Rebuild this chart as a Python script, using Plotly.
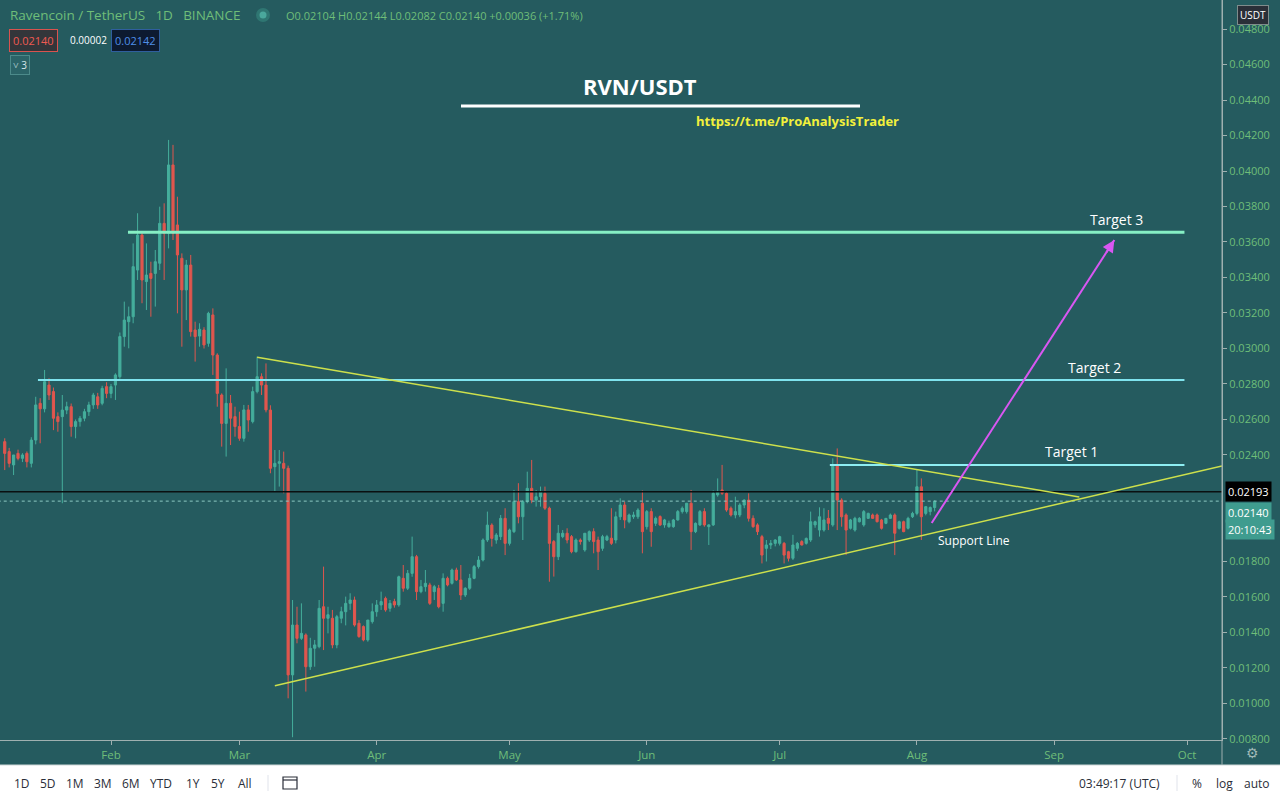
import plotly.graph_objects as go
import pandas as pd

# ---------------- data (RVN/USDT daily, 2020-01-08 .. 2020-08-05) ----------------
START_DATE = "2020-01-08"

OPEN = [
    # Jan 8-31
    0.02475, 0.02419, 0.02344, 0.02409, 0.02381, 0.02409, 0.02353, 0.02484, 0.02691, 0.02660, 0.02794, 0.02757,
    0.02616, 0.02616, 0.02653, 0.02672, 0.02560, 0.02588, 0.02607, 0.02644, 0.02682, 0.02728, 0.02691, 0.02785,
    # Feb
    0.02747, 0.02794, 0.02841, 0.03067, 0.03151, 0.03179, 0.03442, 0.03639, 0.03377, 0.03423, 0.03423, 0.03480,
    0.03705, 0.03649, 0.04034, 0.03696, 0.03508, 0.03330, 0.03470, 0.03104, 0.03070, 0.03104, 0.03029, 0.03189,
    0.02963, 0.02738, 0.02578, 0.02691, 0.02616,
    # Mar
    0.02560, 0.02494, 0.02654, 0.02588, 0.02757, 0.02841, 0.02794, 0.02653, 0.02334, 0.02353, 0.02353, 0.02325,
    0.01161, 0.01442, 0.01367, 0.01386, 0.01207, 0.01311, 0.01320, 0.01545, 0.01480, 0.01480, 0.01330, 0.01480,
    0.01517, 0.01564, 0.01583, 0.01452, 0.01433, 0.01358, 0.01461,
    # Apr
    0.01517, 0.01555, 0.01592, 0.01536, 0.01574, 0.01555, 0.01705, 0.01649, 0.01733, 0.01827, 0.01630, 0.01658,
    0.01668, 0.01630, 0.01649, 0.01564, 0.01705, 0.01677, 0.01752, 0.01696, 0.01611, 0.01649, 0.01705, 0.01771,
    0.01808, 0.01921, 0.02005, 0.01921, 0.01940, 0.02043,
    # May
    0.01902, 0.01968, 0.02137, 0.02052, 0.02137, 0.02212, 0.02146, 0.02165, 0.02184, 0.02100, 0.01912, 0.01827,
    0.01940, 0.01959, 0.01940, 0.01855, 0.01921, 0.01865, 0.01921, 0.01968, 0.01921, 0.01874, 0.01921, 0.01931,
    0.01921, 0.02052, 0.02118, 0.02024, 0.02052, 0.02052, 0.02128,
    # Jun
    0.01996, 0.02081, 0.02015, 0.02053, 0.02006, 0.01996, 0.01996, 0.02034, 0.02081, 0.02081, 0.02128, 0.01968,
    0.02006, 0.02081, 0.01996, 0.02006, 0.02175, 0.02203, 0.02184, 0.02100, 0.02062, 0.02062, 0.02118, 0.02146,
    0.02043, 0.02006, 0.01940, 0.01874, 0.01893, 0.01902,
    # Jul
    0.01902, 0.01902, 0.01855, 0.01818, 0.01874, 0.01912, 0.01902, 0.01921, 0.02006, 0.01977, 0.01977, 0.02043,
    0.02006, 0.02344, 0.02146, 0.02062, 0.01987, 0.01977, 0.02024, 0.02006, 0.02043, 0.02062, 0.02062, 0.02034,
    0.02015, 0.02043, 0.02062, 0.01987, 0.02024, 0.01987, 0.02052,
    # Aug 1-5
    0.02071, 0.02221, 0.02071, 0.02081, 0.02104,
]

HIGH = [
    0.02494, 0.02440, 0.02400, 0.02430, 0.02410, 0.02420, 0.02500, 0.02728, 0.02720, 0.02879, 0.02832, 0.02780,
    0.02640, 0.02738, 0.02700, 0.02690, 0.02600, 0.02620, 0.02660, 0.02700, 0.02750, 0.02750, 0.02790, 0.02810,
    0.02800, 0.02860, 0.03090, 0.03264, 0.03236, 0.03592, 0.03762, 0.03660, 0.03592, 0.03489, 0.03555, 0.03799,
    0.03818, 0.04175, 0.04147, 0.03855, 0.03536, 0.03499, 0.03527, 0.03151, 0.03142, 0.03120, 0.03207, 0.03226,
    0.02973, 0.02747, 0.02888, 0.02738, 0.02672,
    0.02644, 0.02682, 0.02682, 0.02785, 0.02954, 0.02860, 0.02916, 0.02680, 0.02428, 0.02428, 0.02419, 0.02340,
    0.01583, 0.01545, 0.01564, 0.01395, 0.01370, 0.01358, 0.01583, 0.01771, 0.01545, 0.01527, 0.01499, 0.01545,
    0.01602, 0.01621, 0.01602, 0.01470, 0.01440, 0.01470, 0.01564,
    0.01583, 0.01630, 0.01602, 0.01583, 0.01590, 0.01720, 0.01780, 0.01752, 0.01940, 0.01837, 0.01696, 0.01752,
    0.01680, 0.01668, 0.01668, 0.01733, 0.01715, 0.01760, 0.01765, 0.01780, 0.01655, 0.01730, 0.01780, 0.01830,
    0.01930, 0.02081, 0.02015, 0.01960, 0.02062, 0.02100,
    0.01985, 0.02203, 0.02241, 0.02146, 0.02306, 0.02372, 0.02203, 0.02222, 0.02222, 0.02109, 0.01921, 0.02006,
    0.01977, 0.01987, 0.01949, 0.01930, 0.01930, 0.01960, 0.01975, 0.01987, 0.01940, 0.01950, 0.01950, 0.02100,
    0.02081, 0.02156, 0.02137, 0.02070, 0.02080, 0.02100, 0.02200,
    0.02090, 0.02100, 0.02053, 0.02060, 0.02040, 0.02030, 0.02040, 0.02090, 0.02110, 0.02130, 0.02203, 0.02020,
    0.02090, 0.02100, 0.02010, 0.02200, 0.02268, 0.02344, 0.02190, 0.02110, 0.02165, 0.02128, 0.02150, 0.02184,
    0.02060, 0.02015, 0.01950, 0.01921, 0.01921, 0.01925,
    0.01945, 0.01910, 0.01860, 0.01950, 0.01910, 0.01920, 0.01935, 0.02081, 0.02030, 0.02105, 0.02100, 0.02090,
    0.02381, 0.02437, 0.02156, 0.02071, 0.02040, 0.02052, 0.02050, 0.02090, 0.02075, 0.02070, 0.02070, 0.02040,
    0.02045, 0.02070, 0.02071, 0.02030, 0.02030, 0.02052, 0.02080,
    0.02316, 0.02268, 0.02110, 0.02110, 0.02144,
]

LOW = [
    0.02315, 0.02330, 0.02287, 0.02370, 0.02360, 0.02330, 0.02330, 0.02460, 0.02466, 0.02640, 0.02710, 0.02540,
    0.02531, 0.02128, 0.02630, 0.02503, 0.02494, 0.02560, 0.02590, 0.02620, 0.02660, 0.02660, 0.02680, 0.02720,
    0.02720, 0.02710, 0.02830, 0.03010, 0.03001, 0.03142, 0.03386, 0.03255, 0.03217, 0.03179, 0.03236, 0.03442,
    0.03386, 0.03564, 0.03611, 0.03198, 0.03010, 0.03160, 0.03067, 0.02926, 0.03010, 0.03000, 0.03010, 0.02851,
    0.02672, 0.02447, 0.02391, 0.02456, 0.02503,
    0.02480, 0.02475, 0.02531, 0.02578, 0.02747, 0.02738, 0.02640, 0.02297, 0.02193, 0.02222, 0.02184, 0.01029,
    0.00810, 0.01339, 0.01358, 0.01067, 0.01189, 0.01207, 0.01311, 0.01301, 0.01395, 0.01311, 0.01311, 0.01452,
    0.01440, 0.01527, 0.01433, 0.01370, 0.01350, 0.01348, 0.01450,
    0.01489, 0.01527, 0.01517, 0.01517, 0.01540, 0.01545, 0.01630, 0.01639, 0.01714, 0.01583, 0.01621, 0.01630,
    0.01555, 0.01583, 0.01536, 0.01517, 0.01660, 0.01670, 0.01690, 0.01583, 0.01600, 0.01640, 0.01700, 0.01760,
    0.01800, 0.01910, 0.01884, 0.01900, 0.01921, 0.01836,
    0.01890, 0.01960, 0.02015, 0.01921, 0.02128, 0.02128, 0.02109, 0.02109, 0.02090, 0.01686, 0.01715, 0.01808,
    0.01931, 0.01902, 0.01846, 0.01850, 0.01895, 0.01855, 0.01910, 0.01846, 0.01752, 0.01860, 0.01915, 0.01893,
    0.01902, 0.02034, 0.01987, 0.02015, 0.02040, 0.02040, 0.01846,
    0.01980, 0.01883, 0.02000, 0.02000, 0.01990, 0.01990, 0.01990, 0.02030, 0.02070, 0.02070, 0.01865, 0.01960,
    0.02000, 0.01996, 0.01893, 0.02000, 0.02165, 0.02175, 0.02080, 0.02053, 0.02043, 0.02050, 0.02100, 0.02025,
    0.01990, 0.01949, 0.01789, 0.01800, 0.01870, 0.01885,
    0.01890, 0.01789, 0.01800, 0.01808, 0.01860, 0.01890, 0.01895, 0.01910, 0.01990, 0.01940, 0.01968, 0.01977,
    0.01996, 0.01977, 0.01996, 0.01836, 0.01980, 0.01968, 0.02020, 0.01996, 0.02040, 0.02040, 0.02020, 0.01980,
    0.02010, 0.02040, 0.01836, 0.01980, 0.01965, 0.01980, 0.02045,
    0.02060, 0.01921, 0.02060, 0.02060, 0.02082,
]

CLOSE = [
    0.02409, 0.02353, 0.02400, 0.02381, 0.02400, 0.02362, 0.02484, 0.02682, 0.02660, 0.02813, 0.02738, 0.02607,
    0.02588, 0.02653, 0.02672, 0.02560, 0.02588, 0.02607, 0.02644, 0.02682, 0.02738, 0.02682, 0.02775, 0.02747,
    0.02785, 0.02851, 0.03067, 0.03160, 0.03179, 0.03461, 0.03639, 0.03386, 0.03414, 0.03395, 0.03489, 0.03705,
    0.03649, 0.04034, 0.03649, 0.03527, 0.03330, 0.03470, 0.03095, 0.03067, 0.03108, 0.03020, 0.03198, 0.02963,
    0.02747, 0.02578, 0.02691, 0.02607, 0.02560,
    0.02494, 0.02654, 0.02597, 0.02757, 0.02841, 0.02794, 0.02654, 0.02325, 0.02353, 0.02362, 0.02325, 0.01161,
    0.01442, 0.01367, 0.01395, 0.01207, 0.01311, 0.01330, 0.01536, 0.01480, 0.01500, 0.01330, 0.01489, 0.01517,
    0.01564, 0.01583, 0.01442, 0.01377, 0.01358, 0.01470, 0.01517,
    0.01555, 0.01574, 0.01527, 0.01564, 0.01555, 0.01714, 0.01649, 0.01733, 0.01827, 0.01630, 0.01658, 0.01677,
    0.01564, 0.01658, 0.01545, 0.01705, 0.01668, 0.01752, 0.01696, 0.01611, 0.01649, 0.01705, 0.01771, 0.01808,
    0.01921, 0.02005, 0.01930, 0.01949, 0.02043, 0.01902,
    0.01977, 0.02137, 0.02052, 0.02137, 0.02212, 0.02146, 0.02165, 0.02194, 0.02100, 0.01902, 0.01827, 0.01959,
    0.01959, 0.01921, 0.01855, 0.01921, 0.01912, 0.01959, 0.01968, 0.01912, 0.01855, 0.01940, 0.01940, 0.01902,
    0.02052, 0.02118, 0.02034, 0.02062, 0.02062, 0.02090, 0.01968,
    0.02081, 0.01968, 0.02043, 0.02006, 0.02034, 0.02015, 0.02034, 0.02081, 0.02100, 0.02128, 0.01968, 0.02015,
    0.02081, 0.02006, 0.02006, 0.02184, 0.02194, 0.02184, 0.02090, 0.02062, 0.02081, 0.02118, 0.02146, 0.02043,
    0.01996, 0.01968, 0.01836, 0.01893, 0.01902, 0.01921,
    0.01940, 0.01836, 0.01818, 0.01893, 0.01902, 0.01893, 0.01930, 0.02024, 0.02024, 0.02052, 0.02034, 0.02015,
    0.02344, 0.02146, 0.02052, 0.01977, 0.02034, 0.02043, 0.02043, 0.02081, 0.02071, 0.02043, 0.02024, 0.01987,
    0.02043, 0.02062, 0.01959, 0.02024, 0.01968, 0.02043, 0.02071,
    0.02221, 0.02052, 0.02109, 0.02104, 0.02140,
]

# drawing tools
TARGET_NAMES = ["Target 1", "Target 2", "Target 3"]
TARGET_PRICES = [0.02344, 0.02822, 0.03655]
TARGET_STARTS = ["2020-07-12 08:00", "2020-01-15 12:00", "2020-02-04 20:00"]
TARGET_END = "2020-09-30 10:00"
TARGET_LABEL_X = ["2020-09-05 00:00", "2020-09-10 00:00", "2020-09-15 00:00"]
TARGET_COLORS = ["#8eeef2", "#7fe4ee", "#86efc4"]
TARGET_WIDTHS = [2, 2, 3]

UPPER_TREND_X = ["2020-03-05 00:00", "2020-09-06 16:00"]
UPPER_TREND_Y = [0.02950, 0.02163]
SUPPORT_X = ["2020-03-09 00:00", "2020-10-08 21:30"]
SUPPORT_Y = [0.01100, 0.02338]

ARROW_FROM = ("2020-08-04 08:00", 0.02017)
ARROW_TO = ("2020-09-14 14:00", 0.03611)

LAST_PRICE = 0.02140
MARK_PRICE = 0.02193
# price-scale labels (0.02000 and 0.02200 are hidden behind the last-price boxes)
Y_TICKS = [0.008, 0.010, 0.012, 0.014, 0.016, 0.018, 0.024, 0.026, 0.028, 0.030,
           0.032, 0.034, 0.036, 0.038, 0.040, 0.042, 0.044, 0.046, 0.048]

# ---------------- styling ----------------
BG = "#255b5f"
UP = "#45ae9c"
DN = "#e0564e"
GREEN_TXT = "#6fbe79"
FONT = "Open Sans"

W, H = 1280, 800
ML, MR, MT, MB = 0, 58, 0, 60
PW, PH = W - ML - MR, H - MT - MB


def px(x):
    return x / PW


def py(y):
    return 1 - y / PH


dates = pd.date_range(START_DATE, periods=len(CLOSE), freq="D")
assert len(OPEN) == len(HIGH) == len(LOW) == len(CLOSE)

fig = go.Figure()
fig.add_trace(go.Candlestick(
    x=dates, open=OPEN, high=HIGH, low=LOW, close=CLOSE,
    increasing=dict(line=dict(color=UP, width=1), fillcolor=UP),
    decreasing=dict(line=dict(color=DN, width=1), fillcolor=DN),
    whiskerwidth=0, hoverinfo="skip", showlegend=False,
))

# last price dotted + mark line
x_full = ["2020-01-01", "2020-10-20"]
fig.add_trace(go.Scatter(x=x_full, y=[LAST_PRICE, LAST_PRICE], mode="lines",
                         line=dict(color="#8cc8c2", width=1, dash="dot"),
                         hoverinfo="skip", showlegend=False))
fig.add_trace(go.Scatter(x=x_full, y=[MARK_PRICE, MARK_PRICE], mode="lines",
                         line=dict(color="#0a0f10", width=1.5),
                         hoverinfo="skip", showlegend=False))

# targets
for name, p, s, c, w in zip(TARGET_NAMES, TARGET_PRICES, TARGET_STARTS, TARGET_COLORS, TARGET_WIDTHS):
    fig.add_trace(go.Scatter(x=[s, TARGET_END], y=[p, p], mode="lines",
                             line=dict(color=c, width=w), hoverinfo="skip", showlegend=False))

# trendlines
fig.add_trace(go.Scatter(x=UPPER_TREND_X, y=UPPER_TREND_Y, mode="lines",
                         line=dict(color="#cde04c", width=1.5), hoverinfo="skip", showlegend=False))
fig.add_trace(go.Scatter(x=SUPPORT_X, y=SUPPORT_Y, mode="lines",
                         line=dict(color="#cde04c", width=1.5), hoverinfo="skip", showlegend=False))

# magenta arrow line
fig.add_trace(go.Scatter(x=[ARROW_FROM[0], ARROW_TO[0]], y=[ARROW_FROM[1], ARROW_TO[1]], mode="lines",
                         line=dict(color="#d957f2", width=2), hoverinfo="skip", showlegend=False))

annotations = []


def pnote(x, y, text, size, color, xanchor="center", family=FONT, **kw):
    d = dict(x=px(x), y=py(y), xref="paper", yref="paper", xanchor=xanchor, yanchor="middle",
             text=text, showarrow=False, font=dict(family=family, size=size, color=color))
    d.update(kw)
    annotations.append(d)


# arrow head
annotations.append(dict(x=ARROW_TO[0], y=ARROW_TO[1], xref="x", yref="y", ax=-9, ay=14,
                        text="", showarrow=True, arrowhead=2, arrowsize=1.2, arrowwidth=2,
                        arrowcolor="#d957f2"))

for name, p, lx in zip(TARGET_NAMES, TARGET_PRICES, TARGET_LABEL_X):
    annotations.append(dict(x=lx, y=p, xref="x", yref="y", xanchor="center", yanchor="middle",
                            yshift=13, text=name, showarrow=False,
                            font=dict(family=FONT, size=14, color="white")))

annotations.append(dict(x="2020-08-14 00:00", y=0.01921, xref="x", yref="y", xanchor="center",
                        yanchor="middle", text="Support Line",
                        showarrow=False, font=dict(family=FONT, size=12, color="white")))

# title and link
pnote(640, 86, "<b>RVN/USDT</b>", 22, "white")
pnote(797, 121, "<b>https://t.me/ProAnalysisTrader</b>", 13, "#f2f03c")

# header
pnote(8, 15, "Ravencoin / TetherUS\u2002 1D\u2002 BINANCE", 13.5, GREEN_TXT, xanchor="left")
pnote(284, 15, "O0.02104 H0.02144 L0.02082 C0.02140 +0.00036 (+1.71%)", 11, GREEN_TXT, xanchor="left")
pnote(9, 40, "0.02140", 11, "#f05a52", xanchor="left", bgcolor="#33363a", bordercolor="#d9534f",
      borderwidth=1, borderpad=3)
pnote(68, 40, "0.00002", 10, "white", xanchor="left")
pnote(111, 40, "0.02142", 11, "#4f8fe8", xanchor="left", bgcolor="#0d1a30", bordercolor="#2f5f9e",
      borderwidth=1, borderpad=3)
pnote(10, 65, "\u02c5 3", 10, "#d8e8e8", xanchor="left", bgcolor="#2b6468", bordercolor="#4c8a8a",
      borderwidth=1, borderpad=2)

# price-axis boxes
annotations.append(dict(x=1, y=MARK_PRICE, xref="paper", yref="y", xanchor="left", yanchor="middle", xshift=3,
                        text=f"{MARK_PRICE:.5f}", showarrow=False, bgcolor="#000000", borderpad=2,
                        font=dict(family=FONT, size=11, color="white")))
annotations.append(dict(x=1, y=LAST_PRICE, xref="paper", yref="y", xanchor="left", yanchor="middle", xshift=3,
                        yshift=-11, text=f"{LAST_PRICE:.5f}", showarrow=False, bgcolor="#3f9c8f", borderpad=2,
                        font=dict(family=FONT, size=11, color="white")))
annotations.append(dict(x=1, y=LAST_PRICE, xref="paper", yref="y", xanchor="left", yanchor="middle", xshift=3,
                        yshift=-28, text="20:10:43", showarrow=False, bgcolor="#3f9c8f", borderpad=2,
                        font=dict(family=FONT, size=11, color="white")))
pnote(1253, 15, "USDT", 10, "white", bgcolor="#2a2f38", bordercolor="#7f8c8c", borderwidth=1, borderpad=2)
pnote(1252, 753, "\u2699", 14, "#9fb8b6", family="DejaVu Sans")

# bottom toolbar texts
for lbl, xx in zip(["1D", "5D", "1M", "3M", "6M", "YTD", "1Y", "5Y", "All"],
                   [22, 48, 75, 103, 131, 161, 193, 218, 245]):
    pnote(xx, 783, lbl, 12, "#2a2e39")
for lbl, xx in zip(["03:49:17 (UTC)", "%", "log", "auto"], [1119, 1197, 1224, 1257]):
    pnote(xx, 783, lbl, 12, "#2a2e39")

shapes = [
    # bottom toolbar
    dict(type="rect", xref="paper", yref="paper", x0=0, x1=W / PW, y0=py(H), y1=py(765),
         fillcolor="white", line_width=0, layer="above"),
    dict(type="line", xref="paper", yref="paper", x0=0, x1=W / PW, y0=py(765), y1=py(765),
         line=dict(color="#cfd8d8", width=1)),
    dict(type="line", xref="paper", yref="paper", x0=px(268), x1=px(268), y0=py(775), y1=py(791),
         line=dict(color="#e0e3eb", width=1)),
    dict(type="line", xref="paper", yref="paper", x0=px(1177), x1=px(1177), y0=py(775), y1=py(791),
         line=dict(color="#e0e3eb", width=1)),
    # calendar icon
    dict(type="rect", xref="paper", yref="paper", x0=px(283), x1=px(297), y0=py(789), y1=py(777),
         line=dict(color="#2a2e39", width=1.2), fillcolor="rgba(0,0,0,0)"),
    dict(type="line", xref="paper", yref="paper", x0=px(283), x1=px(297), y0=py(780), y1=py(780),
         line=dict(color="#2a2e39", width=1.2)),
    # axis separators
    dict(type="line", xref="paper", yref="paper", x0=1, x1=1, y0=py(765), y1=1,
         line=dict(color="#9fb0b0", width=1)),
    # title underline
    dict(type="line", xref="paper", yref="paper", x0=px(461), x1=px(860), y0=py(106), y1=py(106),
         line=dict(color="white", width=3)),
    # header dot
    dict(type="circle", xref="paper", yref="paper", xsizemode="pixel", ysizemode="pixel",
         xanchor=px(263), yanchor=py(15), x0=-7, x1=7, y0=-7, y1=7,
         fillcolor="#2f7672", line_width=0),
    dict(type="circle", xref="paper", yref="paper", xsizemode="pixel", ysizemode="pixel",
         xanchor=px(263), yanchor=py(15), x0=-3.5, x1=3.5, y0=-3.5, y1=3.5,
         fillcolor="#4aa79c", line_width=0),
]

fig.update_layout(
    width=W, height=H,
    margin=dict(l=ML, r=MR, t=MT, b=MB),
    paper_bgcolor=BG, plot_bgcolor=BG,
    showlegend=False,
    annotations=annotations,
    shapes=shapes,
    font=dict(family=FONT, color=GREEN_TXT),
    xaxis=dict(
        type="date", range=["2020-01-06 22:20", "2020-10-08 21:30"],
        rangeslider=dict(visible=False),
        showgrid=False, zeroline=False,
        tickformat="%b", dtick="M1", tick0="2020-02-01",
        ticks="outside", ticklen=4, tickcolor="#9fb0b0",
        tickfont=dict(family=FONT, size=11.5, color=GREEN_TXT),
        showline=True, linecolor="#9fb0b0", linewidth=1,
        fixedrange=True,
    ),
    yaxis=dict(
        side="right", range=[0.007942, 0.049634],
        showgrid=False, zeroline=False,
        tickvals=Y_TICKS, ticktext=[f"{v:.5f}" for v in Y_TICKS],
        ticks="outside", ticklen=4, tickcolor="#9fb0b0",
        tickfont=dict(family=FONT, size=11, color=GREEN_TXT),
        showline=True, linecolor="#9fb0b0", linewidth=1,
        fixedrange=True,
    ),
)

fig.write_html("out.html", config={"displayModeBar": False, "staticPlot": True})

# remove the browser's default 8px body margin so the figure fills the window exactly
with open("out.html", "r", encoding="utf-8") as f:
    html = f.read()
html = html.replace("<head>", "<head><style>html,body{margin:0;padding:0;overflow:hidden;}</style>", 1)
with open("out.html", "w", encoding="utf-8") as f:
    f.write(html)
